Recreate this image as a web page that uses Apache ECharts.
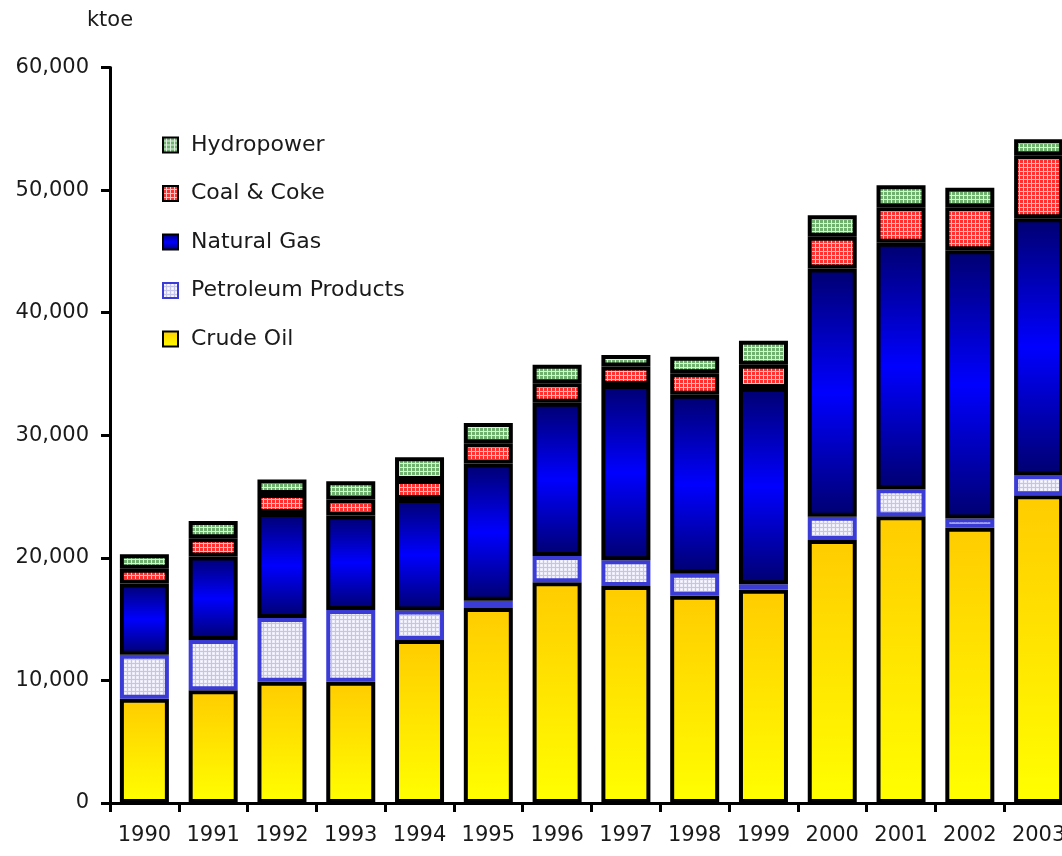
<!DOCTYPE html>
<html>
<head>
<meta charset="utf-8">
<script src="https://cdn.jsdelivr.net/npm/echarts@6/dist/echarts.min.js"></script>
<style>
  html, body { margin: 0; padding: 0; background: #fff; }
  #chart { width: 1062px; height: 856px; }
</style>
</head>
<body>
<div id="chart"></div>
<script>
var years = ['1990','1991','1992','1993','1994','1995','1996','1997','1998','1999','2000','2001','2002','2003'];
// ktoe
var crudeOil    = [8500, 9200, 9900, 9900, 13300, 15900, 18000, 17700, 16900, 17400, 21450, 23400, 22450, 25100];
var petroleum   = [3600, 4100, 5200, 5850, 2400, 600, 2150, 2100, 1800, 450, 1900, 2200, 750, 1650];
var naturalGas  = [5800, 6800, 8550, 7700, 9100, 11200, 12500, 14300, 14600, 16000, 20250, 20100, 21900, 20950];
var coalCoke    = [1200, 1500, 1550, 1300, 1550, 1650, 1600, 1500, 1750, 1900, 2600, 2900, 3500, 5150];
var hydropower  = [1200, 1400, 1200, 1500, 1850, 1650, 1500, 950, 1350, 1950, 1750, 1800, 1600, 1300];
var yTicks = [0, 10000, 20000, 30000, 40000, 50000, 60000];

// small tiles for the hatched fills
function tile(bg, line, dot) {
	var c = document.createElement('canvas');
	c.width = 4; c.height = 4;
	var ctx = c.getContext('2d');
	ctx.fillStyle = bg;
	ctx.fillRect(0, 0, 4, 4);
	ctx.fillStyle = line;
	ctx.fillRect(0, 3, 4, 1);
	ctx.fillRect(3, 0, 1, 4);
	if (dot) {
		ctx.fillStyle = dot;
		ctx.fillRect(1, 1, 1, 1);
	}
	return c;
}

var mychart = echarts.init(document.getElementById('chart'));
var txt = '#1a1a1a';
var option = {
	animation: false,
	// last band runs past the right edge, as in the original
	grid: { left: 110, width: 963, top: 67.5, bottom: 53, outerBoundsMode: 'none', containLabel: false },
	legend: {
		data: ['Hydropower', 'Coal & Coke', 'Natural Gas', 'Petroleum Products', 'Crude Oil'],
		orient: 'vertical',
		icon: 'rect',
		left: 157,
		top: 128,
		itemWidth: 15,
		itemHeight: 15,
		itemGap: 24.5,
		textStyle: { fontFamily: 'DejaVu Sans', fontSize: 22, color: txt, lineHeight: 24, padding: [0, 0, 0, 8] }
	},
	xAxis: {
		type: 'category',
		data: years,
		axisLine: { lineStyle: { color: '#000', width: 3 } },
		axisTick: { show: true, interval: 0, length: 9, lineStyle: { color: '#000', width: 3 } },
		axisLabel: { interval: 0, fontFamily: 'DejaVu Sans', fontSize: 21, color: txt, margin: 22 }
	},
	yAxis: {
		type: 'value',
		min: yTicks[0],
		max: yTicks[yTicks.length - 1],
		interval: 10000,
		name: 'ktoe',
		nameLocation: 'end',
		nameGap: 36,
		nameTextStyle: { fontFamily: 'DejaVu Sans', fontSize: 21, color: txt },
		splitLine: { show: false },
		axisLine: { show: true, lineStyle: { color: '#000', width: 3 } },
		axisTick: { show: true, length: 9, lineStyle: { color: '#000', width: 3 } },
		axisLabel: {
			fontFamily: 'DejaVu Sans', fontSize: 21, color: txt, margin: 21,
			formatter: function (v) { return v.toLocaleString('en-US'); }
		}
	},
	series: [
		{
			name: 'Crude Oil', type: 'bar', stack: 'total', barWidth: 49, data: crudeOil,
			itemStyle: {
				borderColor: '#000', borderWidth: 4,
				color: { type: 'linear', x: 0, y: 0, x2: 0, y2: 1,
					colorStops: [{ offset: 0, color: '#ffcc00' }, { offset: 1, color: '#ffff00' }] }
			}
		},
		{
			name: 'Petroleum Products', type: 'bar', stack: 'total', barWidth: 49, data: petroleum,
			itemStyle: {
				borderColor: '#3b3bd6', borderWidth: 4,
				color: { image: tile('#ececfa', '#c4c4ec', '#ffffff'), repeat: 'repeat' }
			}
		},
		{
			name: 'Natural Gas', type: 'bar', stack: 'total', barWidth: 49, data: naturalGas,
			itemStyle: {
				borderColor: '#000', borderWidth: 4,
				color: { type: 'linear', x: 0, y: 0, x2: 0, y2: 1,
					colorStops: [{ offset: 0, color: '#000070' }, { offset: 0.5, color: '#0000ff' }, { offset: 1, color: '#000070' }] }
			}
		},
		{
			name: 'Coal & Coke', type: 'bar', stack: 'total', barWidth: 49, data: coalCoke,
			itemStyle: {
				borderColor: '#000', borderWidth: 4,
				color: { image: tile('#ff3030', '#ffc4c4'), repeat: 'repeat' }
			}
		},
		{
			name: 'Hydropower', type: 'bar', stack: 'total', barWidth: 49, data: hydropower,
			itemStyle: {
				borderColor: '#000', borderWidth: 4,
				color: { image: tile('#6fb06f', '#dcefdc'), repeat: 'repeat' }
			}
		}
	]
};
mychart.setOption(option);
</script>
</body>
</html>
